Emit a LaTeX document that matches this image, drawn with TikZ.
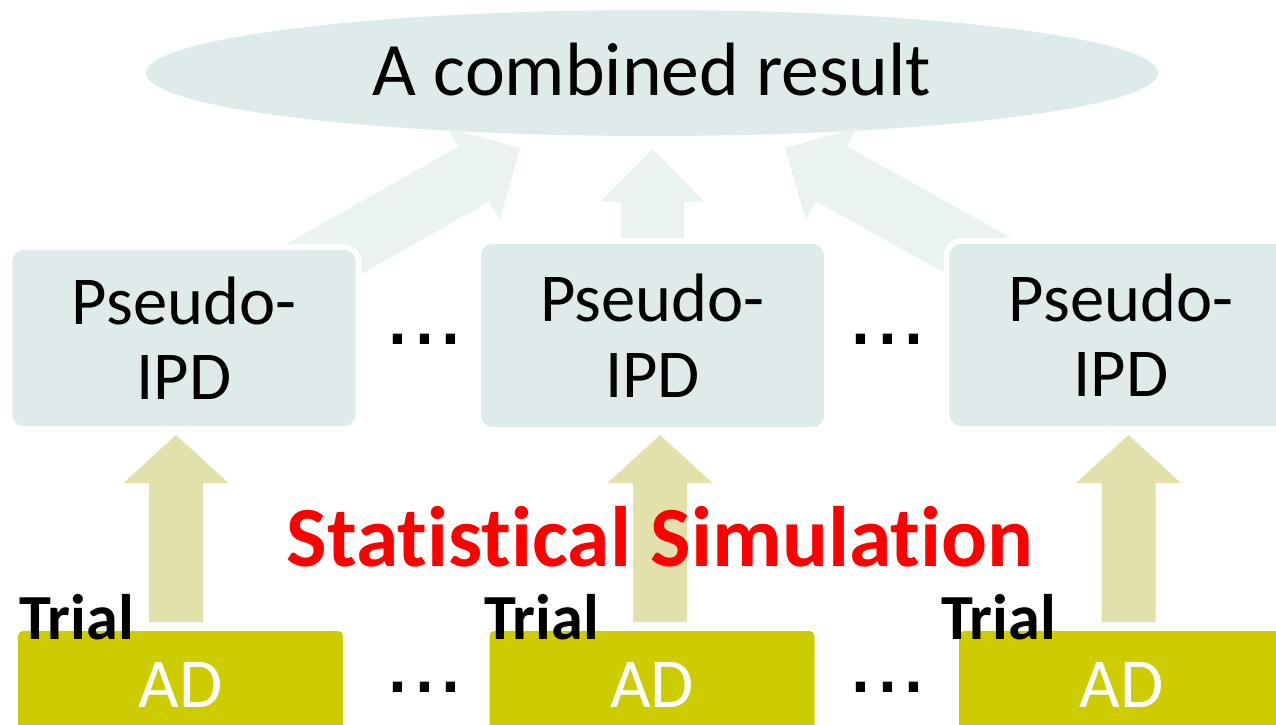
\documentclass[tikz,border=0pt]{standalone}
\usepackage{fontspec}
\setmainfont{Carlito}[Ligatures={NoCommon}]
\newfontfamily\dotfont{Liberation Sans}
\usepackage{tikz}
\usetikzlibrary{calc, shapes.geometric}
\usepackage{xcolor}
\definecolor{paleteal}{RGB}{223,235,235}
\definecolor{paleflow}{RGB}{235,242,242}
\definecolor{khakiflow}{RGB}{226,224,171}
\definecolor{adyellow}{RGB}{204,204,0}
% fat arrow: fill, from, to, shaft half width, head half width, head length
\newcommand{\fatarrow}[6]{%
  \coordinate (fa-base) at ($(#3)!#6!(#2)$);
  \fill[#1] ($(#2)!#4!90:(#3)$) -- ($(fa-base)!#4!90:(#3)$) -- ($(fa-base)!#5!90:(#3)$)
    -- (#3) -- ($(fa-base)!#5!-90:(#3)$) -- ($(fa-base)!#4!-90:(#3)$)
    -- ($(#2)!#4!-90:(#3)$) -- cycle;
}

\begin{document}
\begin{tikzpicture}[
    pseudo/.style={rectangle, rounded corners=0.15cm, fill=paleteal, draw=white, line width=1.6pt,
      minimum width=3.49cm, align=center, font=\fontsize{19.5}{21.5}\selectfont},
    adbox/.style={rectangle, rounded corners=0.05cm, fill=adyellow, text=white, minimum width=3.25cm,
      minimum height=1.08cm, text height=0.44cm, text depth=0pt, font=\fontsize{20}{24}\selectfont},
    trial/.style={anchor=base west, font=\bfseries\fontsize{18.3}{22}\selectfont},
    dots/.style={anchor=base, font=\dotfont\fontsize{27.5}{33}\selectfont}]
        \useasboundingbox (0,0) rectangle (12.76,-7.25);
        \clip (0,0) rectangle (12.76,-7.25);

        % --- Combined result ---
        \node[ellipse, fill=paleteal, minimum width=10.12cm, minimum height=1.26cm, inner sep=0pt,
              text height=0.46cm, text depth=0pt, font=\fontsize{21.5}{26}\selectfont]
              (res) at (6.52,-0.73) {A combined result};

        % --- Pseudo-IPD layer (arrows go behind the boxes) ---
        \coordinate (tipL) at (5.20,-1.48);
        \coordinate (tipM) at (6.525,-1.49);
        \coordinate (tipR) at (7.85,-1.48);
        \coordinate (p1c) at (1.84,-3.38);
        \coordinate (p2c) at (6.525,-3.355);
        \coordinate (p3c) at (11.21,-3.35);
        \fatarrow{paleflow}{p1c}{tipL}{0.315cm}{0.525cm}{0.53cm}
        \fatarrow{paleflow}{p2c}{tipM}{0.315cm}{0.525cm}{0.53cm}
        \fatarrow{paleflow}{p3c}{tipR}{0.315cm}{0.525cm}{0.53cm}

        \node[pseudo, minimum height=1.82cm] (p1) at (p1c) {Pseudo-\\IPD};
        \node[pseudo, minimum height=1.89cm] (p2) at (p2c) {Pseudo-\\IPD};
        \node[pseudo, minimum height=1.88cm] (p3) at (p3c) {Pseudo-\\IPD};
        \node[dots] (dt1) at (4.245,-3.445) {...};
        \node[dots] (dt2) at (8.875,-3.445) {...};

        % --- Simulation arrows, AD boxes ---
        \coordinate (s1) at (1.76,-6.22);   \coordinate (e1) at (1.76,-4.35);
        \coordinate (s2) at (6.60,-6.22);   \coordinate (e2) at (6.60,-4.35);
        \coordinate (s3) at (11.285,-6.22); \coordinate (e3) at (11.285,-4.35);
        \fatarrow{khakiflow}{s1}{e1}{0.27cm}{0.525cm}{0.48cm}
        \fatarrow{khakiflow}{s2}{e2}{0.27cm}{0.525cm}{0.48cm}
        \fatarrow{khakiflow}{s3}{e3}{0.27cm}{0.525cm}{0.48cm}

        \node[adbox] (ad1) at (1.805,-6.85) {AD};
        \node[adbox] (ad2) at (6.52,-6.85) {AD};
        \node[adbox] (ad3) at (11.215,-6.85) {AD};
        \node[dots] (dt3) at (4.245,-6.925) {...};
        \node[dots] (dt4) at (8.875,-6.925) {...};

        \node[trial] (tr1) at (0.07,-6.39) {Trial};
        \node[trial] (tr2) at (4.72,-6.39) {Trial};
        \node[trial] (tr3) at (9.29,-6.39) {Trial};

        \node[anchor=base, text=red, font=\bfseries\fontsize{24.4}{29}\selectfont]
              (sim) at (6.60,-5.67) {Statistical Simulation};
      \end{tikzpicture}
\end{document}
